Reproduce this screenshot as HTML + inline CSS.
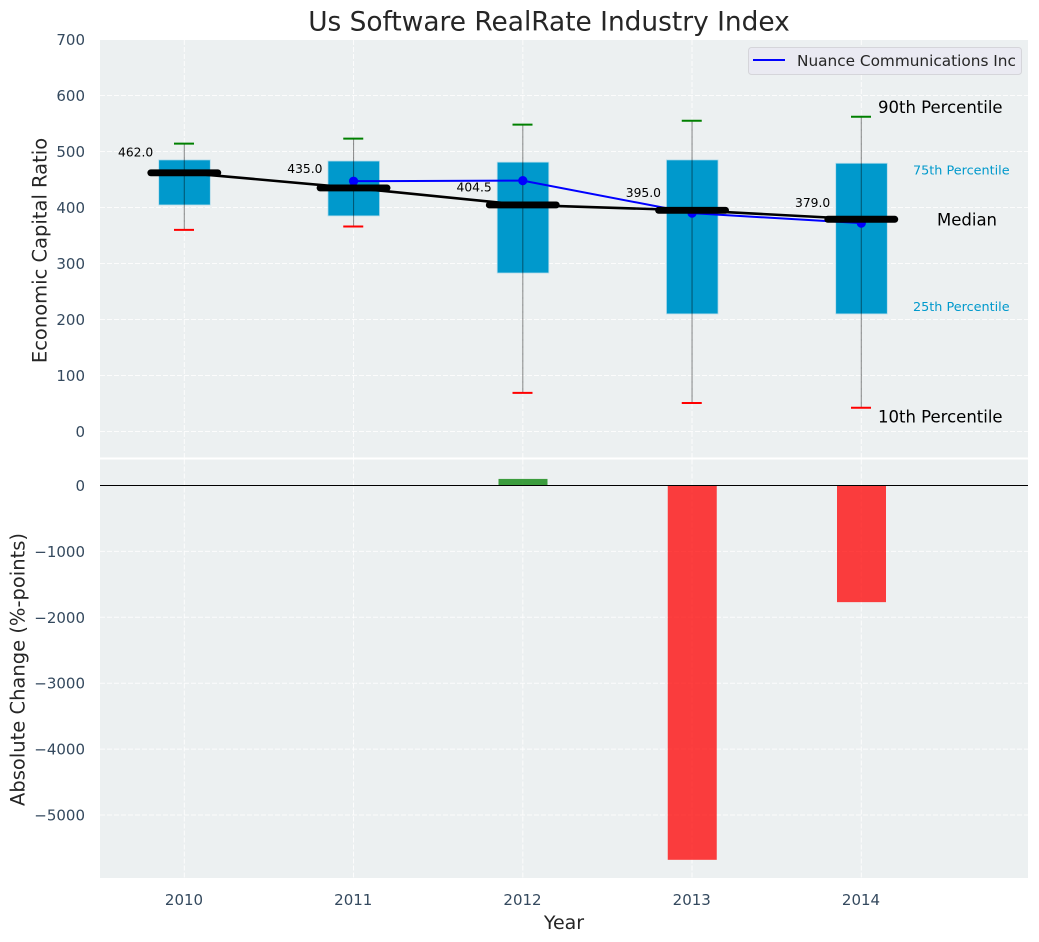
<!DOCTYPE html>
<html lang="en">
<head>
<meta charset="utf-8">
<title>Us Software RealRate Industry Index</title>
<style>
html,body{margin:0;padding:0;background:#fff;width:1039px;height:942px;overflow:hidden}
svg{display:block}
text{font-family:"DejaVu Sans","Liberation Sans",sans-serif}
</style>
</head>
<body>
<svg id="chart" xmlns="http://www.w3.org/2000/svg" width="1039" height="942" viewBox="0 0 1039 942">
  <rect x="100" y="40" width="928" height="417.5" fill="#ecf0f1"/>
  <rect x="100" y="459.5" width="928" height="418.5" fill="#ecf0f1"/>
  <g id="grid"></g>
  <g id="marks"></g>
  <g id="labels"></g>
  <text x="549" y="30.5" text-anchor="middle" font-size="26.4" fill="#262626">Us Software RealRate Industry Index</text>
  <text transform="translate(46.5,250.5) rotate(-90)" text-anchor="middle" font-size="19.5" fill="#262626">Economic Capital Ratio</text>
  <text transform="translate(24.5,669.5) rotate(-90)" text-anchor="middle" font-size="19.5" fill="#262626">Absolute Change (%-points)</text>
  <text x="564" y="929" text-anchor="middle" font-size="19" fill="#262626">Year</text>
  <g>
    <rect x="748.5" y="47.5" width="273" height="27" rx="3" fill="#eaeaf2" stroke="#d5d5da"/>
    <line x1="753" y1="60" x2="785" y2="60" stroke="#0000ff" stroke-width="2"/>
    <text x="797" y="66" font-size="15.3" fill="#262626">Nuance Communications Inc</text>
  </g>
</svg>
<script>
const years = [2010, 2011, 2012, 2013, 2014];
const p90 = [514, 523, 548, 555, 562];
const p75 = [485, 483, 481, 485, 479];
const median = [462, 435, 404.5, 395, 379];
const p25 = [404.5, 385, 283, 210, 210];
const p10 = [360, 366, 69, 51, 42.5];
const companyYears = [2011, 2012, 2013, 2014];
const companyValues = [447, 448, 390, 372];
const changeYears = [2012, 2013, 2014];
const changeValues = [100, -5680, -1770];
const topTicks = [0, 100, 200, 300, 400, 500, 600, 700];
const bottomTicks = [0, -1000, -2000, -3000, -4000, -5000];
const medianLabels = ['462.0', '435.0', '404.5', '395.0', '379.0'];

const NS = 'http://www.w3.org/2000/svg';
const gridG = document.getElementById('grid');
const marksG = document.getElementById('marks');
const labelsG = document.getElementById('labels');

function xScale(v) { return 184.3 + (v - 2010) * 169.25; }
function yTop(v) { return 431.5 - v * 0.56; }
function yBottom(v) { return 485.5 - v * 0.0659; }

function make(parent, tag, attrs, txt) {
  const el = document.createElementNS(NS, tag);
  for (const k in attrs) el.setAttribute(k, attrs[k]);
  if (txt !== undefined) el.textContent = txt;
  parent.appendChild(el);
  return el;
}
function fmtTick(v) { return v < 0 ? '\u2212' + Math.abs(v) : String(v); }

let el;
/* gridlines */
years.forEach(function (y) {
  el = make(gridG, 'line', {x1: xScale(y), x2: xScale(y), y1: 40, y2: 457.5, stroke: '#fff', 'stroke-width': 1, 'stroke-dasharray': '5 2', opacity: 0.85});
  
  
  el = make(gridG, 'line', {x1: xScale(y), x2: xScale(y), y1: 459.5, y2: 878, stroke: '#fff', 'stroke-width': 1, 'stroke-dasharray': '5 2', opacity: 0.85});
  
  
  el = make(labelsG, 'text', {x: xScale(y) - 0.3, y: 905, 'text-anchor': 'middle', 'font-size': 15, fill: '#34495e'}, String(y));
  
  
});
topTicks.forEach(function (t) {
  el = make(gridG, 'line', {x1: 100, x2: 1028, y1: yTop(t), y2: yTop(t), stroke: '#fff', 'stroke-width': 1, 'stroke-dasharray': '5 2', opacity: 0.85});
  
  
  el = make(labelsG, 'text', {x: 85, y: yTop(t) + 5.5, 'text-anchor': 'end', 'font-size': 15, fill: '#34495e'}, fmtTick(t));
  
  
});
bottomTicks.forEach(function (t) {
  el = make(gridG, 'line', {x1: 100, x2: 1028, y1: yBottom(t), y2: yBottom(t), stroke: '#fff', 'stroke-width': 1, 'stroke-dasharray': '5 2', opacity: 0.85});
  
  
  el = make(labelsG, 'text', {x: 85, y: yBottom(t) + 5.5, 'text-anchor': 'end', 'font-size': 15, fill: '#34495e'}, fmtTick(t));
  
  
});

/* boxes, whiskers, caps */
years.forEach(function (y, i) {
  const cx = xScale(y);
  el = make(marksG, 'rect', {x: cx - 25.6, y: yTop(p75[i]), width: 51.6, height: yTop(p25[i]) - yTop(p75[i]), fill: '#0099cc', stroke: '#b5dcea', 'stroke-width': 0.8});
  
  
  el = make(marksG, 'line', {x1: cx, x2: cx, y1: yTop(p90[i]), y2: yTop(p10[i]), stroke: '#000', 'stroke-width': 1.1, opacity: 0.42});
  
  
  el = make(marksG, 'line', {x1: cx - 10.3, x2: cx + 9.7, y1: yTop(p90[i]), y2: yTop(p90[i]), stroke: '#008000', 'stroke-width': 2});
  
  
  el = make(marksG, 'line', {x1: cx - 10.3, x2: cx + 9.7, y1: yTop(p10[i]), y2: yTop(p10[i]), stroke: '#ff0000', 'stroke-width': 2});
  
  
});

/* company series */
el = make(marksG, 'polyline', {points: companyYears.map(function (y, i) { return xScale(y) + ',' + yTop(companyValues[i]); }).join(' '), fill: 'none', stroke: '#0000ff', 'stroke-width': 2});


companyYears.forEach(function (y, i) {
  el = make(marksG, 'circle', {cx: xScale(y), cy: yTop(companyValues[i]), r: 4.6, fill: '#0000ff'});
  
  
});

/* median trend */
el = make(marksG, 'polyline', {points: years.map(function (y, i) { return xScale(y) + ',' + yTop(median[i]); }).join(' '), fill: 'none', stroke: '#000', 'stroke-width': 2.6});


years.forEach(function (y, i) {
  const cx = xScale(y);
  el = make(marksG, 'line', {x1: cx - 33.5, x2: cx + 33.5, y1: yTop(median[i]), y2: yTop(median[i]), stroke: '#000', 'stroke-width': 6.9, 'stroke-linecap': 'round'});
  
  
  el = make(labelsG, 'text', {x: cx - 66.3, y: yTop(median[i] * 1.08) + 4.5, 'font-size': 12.3, fill: '#000'}, medianLabels[i]);
  
  
});

/* change bars */
changeYears.forEach(function (y, i) {
  const v = changeValues[i];
  const top = Math.min(yBottom(0), yBottom(v));
  const h = Math.abs(yBottom(v) - yBottom(0));
  el = make(marksG, 'rect', {x: xScale(y) - 24.3, y: top, width: 49, height: h, fill: v >= 0 ? '#008000' : '#ff0000', 'fill-opacity': 0.75});
  
  
});
el = make(marksG, 'line', {x1: 100, x2: 1028, y1: yBottom(0), y2: yBottom(0), stroke: '#000', 'stroke-width': 1.1});



/* percentile annotations, placed beside the final year's values */
const last = years.length - 1;
const lastX = xScale(years[last]);
el = make(labelsG, 'text', {x: lastX + 16.7, y: yTop(p90[last]) - 4, 'font-size': 16.5, fill: '#000'}, '90th Percentile');


el = make(labelsG, 'text', {x: lastX + 51.7, y: yTop(p75[last]) + 11, 'font-size': 12.8, fill: '#0099cc'}, '75th Percentile');


el = make(labelsG, 'text', {x: lastX + 75.7, y: yTop(median[last]) + 6, 'font-size': 16.5, fill: '#000'}, 'Median');


el = make(labelsG, 'text', {x: lastX + 51.7, y: yTop(p25[last]) - 3, 'font-size': 12.8, fill: '#0099cc'}, '25th Percentile');


el = make(labelsG, 'text', {x: lastX + 16.7, y: yTop(p10[last]) + 15, 'font-size': 16.5, fill: '#000'}, '10th Percentile');


</script>
</body>
</html>
